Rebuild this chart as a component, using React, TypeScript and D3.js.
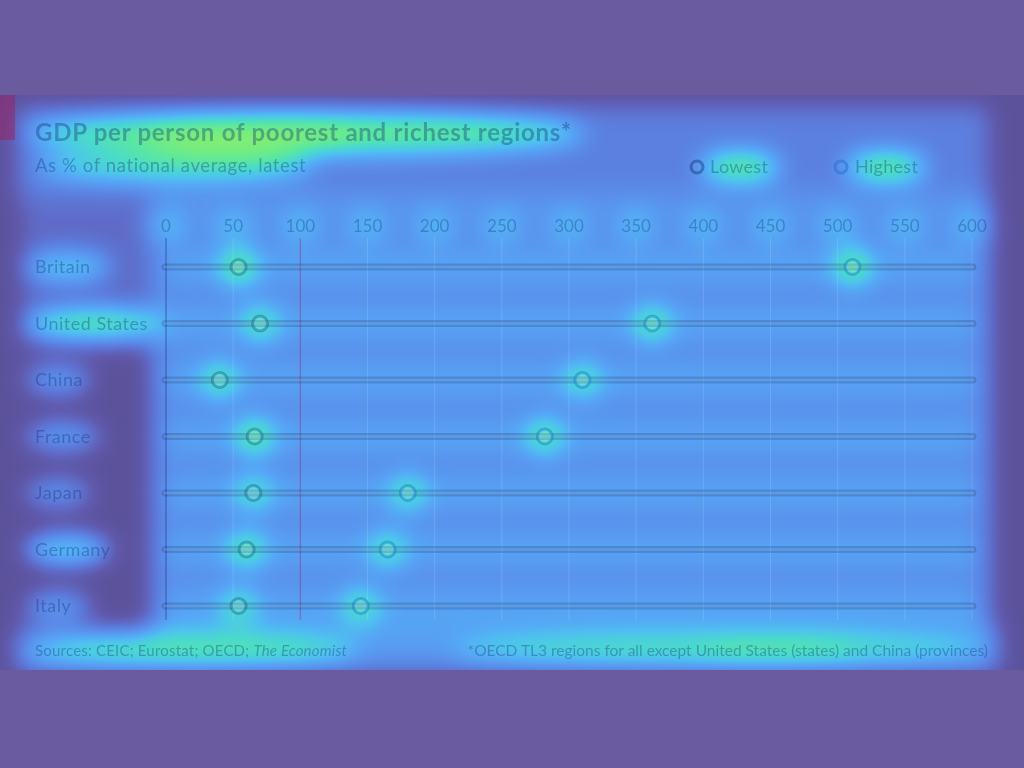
import React from 'react'
import { scaleLinear, scalePoint } from 'd3'

// chart values
const countries = ['Britain', 'United States', 'China', 'France', 'Japan', 'Germany', 'Italy']
const lowest = [54, 70, 40, 66, 65, 60, 54]
const highest = [511, 362, 310, 282, 180, 165, 145]
const ticks = [0, 50, 100, 150, 200, 250, 300, 350, 400, 450, 500, 550, 600]

// attention weights of the overlay
const labelHeat = [0.6, 0.85, 0.5, 0.5, 0.45, 0.75, 0.5]
const lowHeat = [0.9, 0.75, 0.75, 0.9, 0.65, 0.8, 0.65]
const highHeat = [0.9, 0.8, 0.7, 0.8, 0.7, 0.7, 0.7]

const W = 1024
const H = 768
const TOP = 95
const BOTTOM = 670
const FONT = 'Lato, "Open Sans", sans-serif'
const INK = '#0a2a6a'

// colour map: intensity -> overlay colour
const cmap = [
  [92, 82, 155], [96, 90, 172], [95, 108, 200], [92, 128, 224], [90, 148, 238],
  [86, 168, 246], [78, 196, 238], [74, 218, 204], [92, 232, 160], [122, 238, 122], [160, 240, 100]
]
const table = (i: number) => cmap.map(c => (c[i] / 255).toFixed(3)).join(' ')

const App = () => {
  const x = scaleLinear().domain([0, 600]).range([166, 972])
  const y = scalePoint().domain(countries).range([267, 606])

  const rows = countries.map((c, i) => ({ c, i, yy: y(c) as number }))

  return (
    <svg width={W} height={H} style={{ position: 'fixed', left: 0, top: 0 }}>
      <defs>
        <filter id="heat" filterUnits="userSpaceOnUse" x={0} y={0} width={W} height={H}
          colorInterpolationFilters="sRGB">
          <feGaussianBlur stdDeviation={13} />
          <feComponentTransfer>
            <feFuncR type="table" tableValues={table(0)} />
            <feFuncG type="table" tableValues={table(1)} />
            <feFuncB type="table" tableValues={table(2)} />
          </feComponentTransfer>
        </filter>
        <clipPath id="img">
          <rect x={0} y={TOP} width={W} height={BOTTOM - TOP} />
        </clipPath>
      </defs>

      <rect width={W} height={H} fill="#6a5a9e" />

      {/* heat overlay */}
      <g clipPath="url(#img)">
        <g filter="url(#heat)">
          <rect x={-50} y={0} width={W + 100} height={H} fill="#000" />
          <rect x={150} y={195} width={842} height={440} fill="#fff" opacity={0.38} />
          <rect x={15} y={105} width={975} height={95} fill="#fff" opacity={0.3} />
          <rect x={15} y={628} width={985} height={45} fill="#fff" opacity={0.42} />
          <rect x={20} y={200} width={130} height={150} fill="#fff" opacity={0.2} />
          <ellipse cx={305} cy={133} rx={280} ry={20} fill="#fff" opacity={0.8} />
          <ellipse cx={250} cy={138} rx={110} ry={18} fill="#fff" opacity={0.6} />
          <ellipse cx={175} cy={166} rx={140} ry={14} fill="#fff" opacity={0.7} />
          <ellipse cx={740} cy={167} rx={40} ry={13} fill="#fff" opacity={0.92} />
          <ellipse cx={886} cy={167} rx={40} ry={13} fill="#fff" opacity={0.92} />
          {ticks.map(t => (
            <ellipse key={t} cx={x(t)} cy={226} rx={20} ry={14} fill="#fff" opacity={0.4} />
          ))}
          {rows.map(r => (
            <g key={r.c}>
              <rect x={166} y={r.yy - 10} width={810} height={20} fill="#fff" opacity={0.25} />
              <ellipse cx={35 + r.c.length * 4.6} cy={r.yy} rx={r.c.length * 4.6 + 12} ry={14}
                fill="#fff" opacity={labelHeat[r.i]} />
              <circle cx={x(lowest[r.i])} cy={r.yy} r={17} fill="#fff" opacity={lowHeat[r.i]} />
              <circle cx={x(highest[r.i])} cy={r.yy} r={17} fill="#fff" opacity={highHeat[r.i]} />
            </g>
          ))}
          <ellipse cx={195} cy={650} rx={165} ry={14} fill="#fff" opacity={0.7} />
          <ellipse cx={720} cy={650} rx={268} ry={14} fill="#fff" opacity={0.6} />
          <ellipse cx={780} cy={650} rx={80} ry={12} fill="#fff" opacity={0.4} />
        </g>
      </g>

      {/* chart underneath, seen through overlay */}
      <rect x={0} y={TOP} width={15} height={45} fill="#a01a5a" opacity={0.45} />
      <text x={35} y={141} fontFamily={FONT} fontWeight={700} fontSize={24} letterSpacing={0.75}
        fill={INK} opacity={0.35}>
        GDP per person of poorest and richest regions*
      </text>
      <text x={35} y={172} fontFamily={FONT} fontSize={18.5} letterSpacing={0.6} fill={INK} opacity={0.33}>
        As % of national average, latest
      </text>
      <circle cx={697} cy={167} r={6} fill="none" stroke={INK} strokeWidth={3} opacity={0.4} />
      <text x={710} y={173} fontFamily={FONT} fontSize={18} letterSpacing={0.3} fill={INK} opacity={0.33}>Lowest</text>
      <circle cx={841} cy={167} r={6} fill="none" stroke="#1a6ad0" strokeWidth={3} opacity={0.45} />
      <text x={855} y={173} fontFamily={FONT} fontSize={18} letterSpacing={0.3} fill={INK} opacity={0.33}>Highest</text>

      {ticks.map(t => (
        <g key={t}>
          <line x1={x(t)} x2={x(t)} y1={238} y2={620}
            stroke={t === 0 ? INK : t === 100 ? '#a0206a' : '#ffffff'}
            strokeWidth={t === 0 || t === 100 ? 1.5 : 1}
            opacity={t === 0 ? 0.35 : t === 100 ? 0.35 : 0.13} />
          <text x={x(t)} y={232} textAnchor="middle" fontFamily={FONT} fontSize={17}
            fill={INK} opacity={0.3}>{t}</text>
        </g>
      ))}

      {rows.map(r => (
        <g key={r.c}>
          <text x={35} y={r.yy + 6} fontFamily={FONT} fontSize={18} letterSpacing={0.5}
            fill={INK} opacity={0.33}>{r.c}</text>
          <line x1={165} x2={973} y1={r.yy} y2={r.yy} stroke={INK} strokeWidth={7}
            strokeLinecap="round" opacity={0.2} />
          <line x1={165} x2={973} y1={r.yy} y2={r.yy} stroke="#ffffff" strokeWidth={2.5}
            strokeLinecap="round" opacity={0.15} />
          <circle cx={x(lowest[r.i])} cy={r.yy} r={7.5} fill="#ffffff" fillOpacity={0.15}
            stroke="#0a5a8a" strokeWidth={3} strokeOpacity={0.4} />
          <circle cx={x(highest[r.i])} cy={r.yy} r={7.5} fill="#ffffff" fillOpacity={0.15}
            stroke="#0a7ad0" strokeWidth={3} strokeOpacity={0.45} />
        </g>
      ))}

      <text x={35} y={656} fontFamily={FONT} fontSize={15} letterSpacing={0.2} fill={INK} opacity={0.33}>
        Sources: CEIC; Eurostat; OECD; <tspan fontStyle="italic">The Economist</tspan>
      </text>
      <text x={988} y={656} textAnchor="end" fontFamily={FONT} fontSize={15.5} letterSpacing={0}
        fill={INK} opacity={0.33}>
        *OECD TL3 regions for all except United States (states) and China (provinces)
      </text>
    </svg>
  )
}

export default App
